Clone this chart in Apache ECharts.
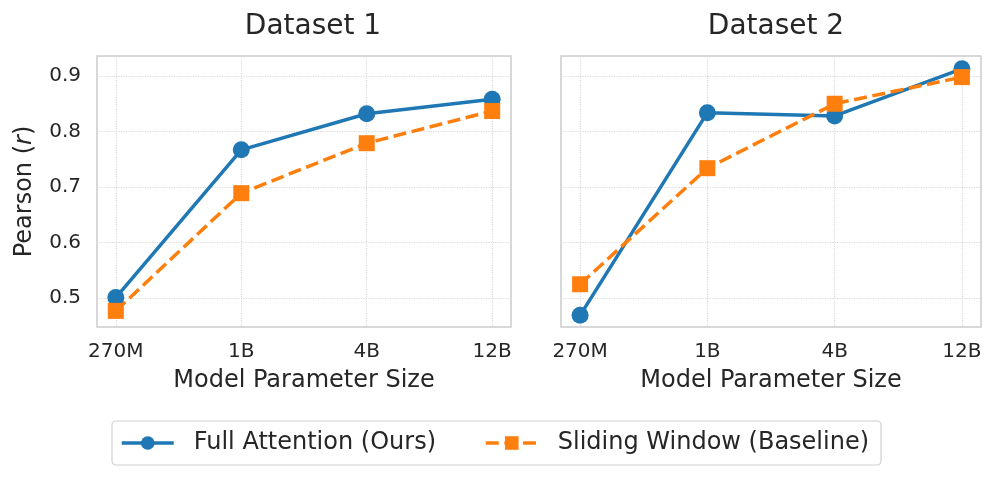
<!DOCTYPE html>
<html><head><meta charset="utf-8">
<script src="https://cdn.jsdelivr.net/npm/echarts@6/dist/echarts.min.js"></script>
<style>html,body{margin:0;padding:0;background:#fff}#c{width:997px;height:479px}</style>
</head><body><div id="c"></div>
<script>
const categories = ['270M', '1B', '4B', '12B'];
const yTicks = [0.5, 0.6, 0.7, 0.8, 0.9];
const ds1Full = [0.501, 0.767, 0.832, 0.858];
const ds1Sliding = [0.477, 0.689, 0.779, 0.837];
const ds2Full = [0.469, 0.834, 0.828, 0.913];
const ds2Sliding = [0.525, 0.734, 0.850, 0.898];
const titles = ['Dataset 1', 'Dataset 2'];
const seriesNames = ['Full Attention (Ours)', 'Sliding Window (Baseline)'];

const FONT = 'DejaVu Sans';
const TXT = '#262626';
const BLUE = '#1f77b4', ORANGE = '#ff7f0e';
const xIdx = categories.map((c, i) => i);
const pts = vals => vals.map((v, i) => [i, v]);

function xAx(g) {
  return {
    type: 'value', gridIndex: g, min: -0.15, max: 3.15,
    name: 'Model Parameter Size', nameLocation: 'middle', nameGap: 42,
    nameTextStyle: {fontFamily: FONT, fontSize: 24, color: TXT},
    axisLine: {show: false}, axisTick: {show: false, customValues: xIdx},
    axisLabel: {customValues: xIdx, formatter: v => categories[Math.round(v)], fontFamily: FONT, fontSize: 20, color: TXT, margin: 15},
    splitLine: {show: true, lineStyle: {type: 'dotted', color: '#d9d9d9', width: 1.2}}
  };
}
function yAx(g, showLabels) {
  return {
    type: 'value', gridIndex: g, min: 0.448, max: 0.936,
    name: showLabels ? 'Pearson ({i|r})' : '', nameLocation: 'middle', nameGap: 60, nameRotate: 90,
    nameTextStyle: {fontFamily: FONT, fontSize: 24, color: TXT, rich: {i: {fontFamily: FONT, fontSize: 24, fontStyle: 'italic', color: TXT}}},
    axisLine: {show: false}, axisTick: {show: false, customValues: yTicks},
    axisLabel: {show: showLabels, customValues: yTicks, formatter: v => v.toFixed(1), fontFamily: FONT, fontSize: 20, color: TXT, margin: 16},
    splitLine: {show: true, lineStyle: {type: 'dotted', color: '#d9d9d9', width: 1.2}}
  };
}
function line(name, g, vals, color, dashed, symbol, size) {
  return {
    name: name, type: 'line', xAxisIndex: g, yAxisIndex: g, data: pts(vals),
    symbol: symbol, symbolSize: size, showSymbol: true, clip: false,
    itemStyle: {color: color},
    lineStyle: {color: color, width: 3.5, type: dashed ? [13, 5.6] : 'solid'},
    emphasis: {disabled: true}
  };
}

const chart = echarts.init(document.getElementById('c'), null, {renderer: 'canvas'});
chart.setOption({
  animation: false,
  backgroundColor: '#ffffff',
  title: [
    {text: titles[0], left: 308, top: 8, textAlign: 'center', textStyle: {fontFamily: FONT, fontSize: 28, fontWeight: 'normal', color: TXT}},
    {text: titles[1], left: 771, top: 8, textAlign: 'center', textStyle: {fontFamily: FONT, fontSize: 28, fontWeight: 'normal', color: TXT}}
  ],
  grid: [
    {left: 97, top: 56, width: 414, height: 271, show: true, borderColor: '#cccccc', borderWidth: 1.5, backgroundColor: '#fff'},
    {left: 561, top: 56, width: 420, height: 271, show: true, borderColor: '#cccccc', borderWidth: 1.5, backgroundColor: '#fff'}
  ],
  xAxis: [xAx(0), xAx(1)],
  yAxis: [yAx(0, true), yAx(1, false)],
  legend: {
    data: seriesNames, left: 112, top: 421, itemWidth: 52, itemHeight: 17, itemGap: 48,
    padding: [10, 12, 10, 8], borderColor: '#d0d0d0', borderWidth: 1.2, borderRadius: 4,
    lineStyle: {width: 3.5},
    textStyle: {fontFamily: FONT, fontSize: 24, color: TXT, padding: [0, 0, 0, 15]}
  },
  series: [
    line(seriesNames[0], 0, ds1Full, BLUE, false, 'circle', 17),
    line(seriesNames[1], 0, ds1Sliding, ORANGE, true, 'rect', 16),
    line(seriesNames[0], 1, ds2Full, BLUE, false, 'circle', 17),
    line(seriesNames[1], 1, ds2Sliding, ORANGE, true, 'rect', 16)
  ]
});
</script></body></html>
